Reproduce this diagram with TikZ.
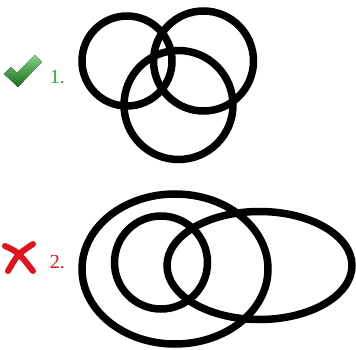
\documentclass[tikz,border=0pt]{standalone}
\usepackage{fontspec}
\setmainfont{Liberation Serif}
\usetikzlibrary{positioning}

\definecolor{okgreen}{RGB}{40,170,40}
\definecolor{okdark}{RGB}{20,110,20}
\definecolor{badred}{RGB}{225,20,30}

\begin{document}
\begin{tikzpicture}[x=1pt,y=-1pt,line width=7.5pt]
\useasboundingbox (0,0) rectangle (356,350);
% 1. three circles
\fill[top color=okgreen!55!white,bottom color=okdark] (4,74)--(11,67)--(17,73)--(35,55)--(42,62)--(18,87)--cycle;
\node[inner sep=0pt,okgreen,font=\fontsize{20}{20}\selectfont,anchor=base west] (one) at (46,84) {1.};
\draw (127,61) circle (45);
\draw (203.5,61) circle (50);
\draw (178.5,105) circle (54.5);
% 2. ellipses
\draw[badred,line width=6pt,line cap=round] (5,246) .. controls (18,252) .. (33,271);
\draw[badred,line width=6pt,line cap=round] (33,244) .. controls (18,254) .. (8,271);
\node[inner sep=0pt,badred,font=\fontsize{20}{20}\selectfont,anchor=base west] (two) at (46,268) {2.};
\draw (175,269) ellipse [x radius=93,y radius=75];
\draw (161,262.5) circle (46.5);
\draw (259.5,265.5) ellipse [x radius=92.5,y radius=54];
\end{tikzpicture}
\end{document}
